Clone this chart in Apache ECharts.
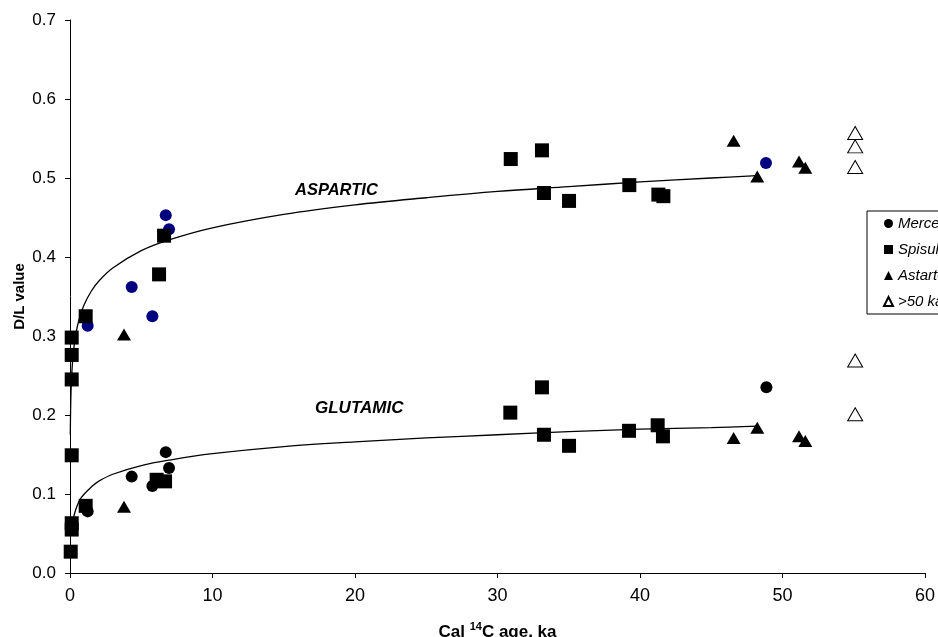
<!DOCTYPE html>
<html><head><meta charset="utf-8">
<script src="https://cdn.jsdelivr.net/npm/echarts@6/dist/echarts.min.js"></script>
<style>html,body{margin:0;padding:0;background:#fff}#chart{width:938px;height:637px}</style>
</head><body><div id="chart"></div>
<script>
// ---- data ----
const xTicks = [0, 10, 20, 30, 40, 50, 60];
const yTicks = ['0.0', '0.1', '0.2', '0.3', '0.4', '0.5', '0.6', '0.7'];
const legendNames = ['Mercenaria', 'Spisula', 'Astarte', '>50 ka'];

// Mercenaria (circles) — aspartic points drawn in navy, glutamic in black
const mercenariaAspartic = [[1.24,0.313],[4.33,0.362],[5.78,0.325],[6.72,0.453],[6.95,0.435],[48.84,0.519]];
const mercenariaGlutamic = [[1.24,0.078],[4.33,0.122],[5.78,0.110],[6.72,0.153],[6.95,0.133],[48.87,0.235]];

// Spisula (squares)
const spisulaAspartic = [[0.12,0.298],[0.12,0.276],[0.12,0.245],[0.12,0.149],[1.1,0.325],[6.25,0.378],[6.6,0.427],
  [30.93,0.524],[33.12,0.535],[33.26,0.481],[35.02,0.471],[39.25,0.491],[41.29,0.479],[41.64,0.477]];
const spisulaGlutamic = [[0.12,0.063],[0.12,0.055],[0.05,0.027],[1.1,0.085],[6.08,0.118],[6.67,0.116],
  [30.9,0.203],[33.12,0.235],[33.26,0.175],[35.02,0.161],[39.23,0.180],[41.24,0.187],[41.61,0.173]];

// Astarte (filled triangles)
const astarteAspartic = [[3.79,0.302],[46.57,0.547],[48.23,0.502],[51.16,0.521],[51.6,0.513]];
const astarteGlutamic = [[3.79,0.084],[46.57,0.171],[48.23,0.184],[51.16,0.173],[51.6,0.167]];

// >50 ka (open triangles)
const over50Aspartic = [[55.1,0.557],[55.1,0.540],[55.1,0.514]];
const over50Glutamic = [[55.1,0.269],[55.1,0.201]];

// trend curves, points
const asparticTrend = [[0.02,0.175],[0.05,0.214],[0.1,0.243],[0.2,0.272],[0.4,0.302],[0.7,0.325],[1,0.340],
  [1.5,0.357],[2,0.369],[3,0.386],[5,0.408],[7,0.422],[10,0.437],[15,0.454],[20,0.466],[25,0.475],
  [30,0.483],[35,0.489],[40,0.495],[45,0.500],[48.2,0.503]];
const glutamicTrend = [[0.2,0.065],[0.3,0.074],[0.5,0.085],[0.7,0.093],[1,0.100],[1.5,0.109],[2,0.116],
  [3,0.125],[5,0.136],[7,0.143],[10,0.151],[15,0.160],[20,0.166],[25,0.171],[30,0.175],[35,0.179],
  [40,0.182],[45,0.184],[48.2,0.186]];

const curveLabels = ['ASPARTIC', 'GLUTAMIC'];

// ---- chart ----
const FONT = '"Liberation Sans", Arial, sans-serif';
const chart = echarts.init(document.getElementById('chart'), null, {renderer: 'canvas'});

const mercData = mercenariaAspartic.map(p => ({value: p, itemStyle: {color: '#000080'}}))
  .concat(mercenariaGlutamic.map(p => ({value: p})));

chart.setOption({
  animation: false,
  backgroundColor: '#fff',
  textStyle: {fontFamily: FONT},
  grid: {left: 70, right: 13, top: 20, bottom: 64, containLabel: false, outerBoundsMode: 'none'},
  xAxis: {
    type: 'value', min: xTicks[0], max: xTicks[xTicks.length - 1], interval: 10,
    axisLine: {show: true, onZero: false, lineStyle: {color: '#000', width: 1}},
    axisTick: {show: true, inside: false, length: 5, lineStyle: {color: '#000'}},
    axisLabel: {color: '#000', fontSize: 18, fontFamily: FONT, margin: 14},
    splitLine: {show: false},
    name: '{b|Cal }{sup|14}{b|C age, ka}',
    nameLocation: 'middle', nameGap: 48, nameMoveOverlap: false,
    nameTextStyle: {
      rich: {
        b: {fontSize: 17, fontWeight: 'bold', color: '#000', fontFamily: FONT, lineHeight: 20, verticalAlign: 'bottom'},
        sup: {fontSize: 11, fontWeight: 'bold', color: '#000', fontFamily: FONT, lineHeight: 12, verticalAlign: 'top'}
      }
    }
  },
  yAxis: {
    type: 'value', min: 0, max: 0.7, interval: 0.1,
    axisLine: {show: true, onZero: false, lineStyle: {color: '#000', width: 1}},
    axisTick: {show: true, inside: false, length: 5, lineStyle: {color: '#000'}},
    axisLabel: {color: '#000', fontSize: 17, fontFamily: FONT, margin: 14,
      formatter: v => yTicks[Math.round(v * 10)] || v.toFixed(1)},
    splitLine: {show: false},
    name: 'D/L value', nameLocation: 'middle', nameGap: 43, nameRotate: 90, nameMoveOverlap: false,
    nameTextStyle: {fontSize: 15, fontWeight: 'bold', color: '#000', fontFamily: FONT}
  },
  legend: {
    show: true, orient: 'vertical', left: 867, top: 211,
    data: legendNames, selectedMode: false,
    backgroundColor: '#fff', borderColor: '#000', borderWidth: 1, borderRadius: 0,
    padding: [5, 60, 5, 16], itemWidth: 9, itemHeight: 9, itemGap: 11,
    textStyle: {fontStyle: 'italic', fontSize: 15, color: '#000', fontFamily: FONT}
  },
  graphic: [
    {type: 'text', left: 295, top: 182, style: {text: curveLabels[0], fill: '#000',
      font: 'italic bold 16.5px ' + FONT}},
    {type: 'text', left: 315, top: 400, style: {text: curveLabels[1], fill: '#000',
      font: 'italic bold 17px ' + FONT}}
  ],
  series: [
    {name: 'aspartic trend', type: 'line', data: asparticTrend, showSymbol: false, smooth: 0.35,
      lineStyle: {color: '#000', width: 1.3}, z: 1, silent: true},
    {name: 'glutamic trend', type: 'line', data: glutamicTrend, showSymbol: false, smooth: 0.35,
      lineStyle: {color: '#000', width: 1.3}, z: 1, silent: true},
    {name: 'Mercenaria', type: 'scatter', symbol: 'circle', symbolSize: 12,
      itemStyle: {color: '#000', opacity: 1}, data: mercData, z: 3},
    {name: 'Spisula', type: 'scatter', symbol: 'rect', symbolSize: 14,
      itemStyle: {color: '#000', opacity: 1}, data: spisulaAspartic.concat(spisulaGlutamic), z: 3},
    {name: 'Astarte', type: 'scatter', symbol: 'triangle', symbolSize: [14, 12],
      itemStyle: {color: '#000', opacity: 1}, data: astarteAspartic.concat(astarteGlutamic), z: 3},
    {name: '>50 ka', type: 'scatter', symbol: 'triangle', symbolSize: [15, 13],
      itemStyle: {color: '#fff', borderColor: '#000', borderWidth: 1, opacity: 1},
      data: over50Aspartic.concat(over50Glutamic), z: 3}
  ]
});
</script></body></html>
